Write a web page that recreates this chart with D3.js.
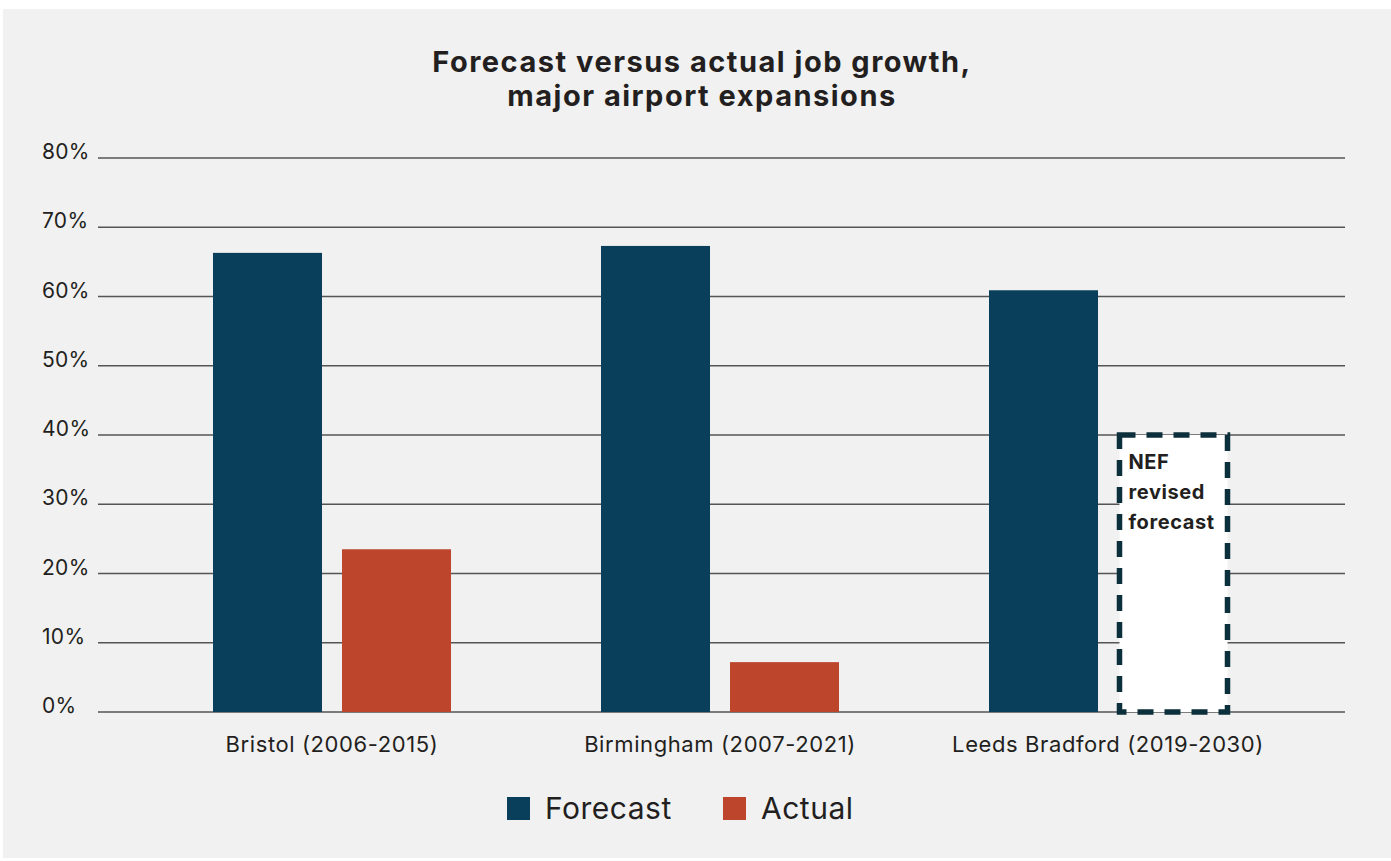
<!DOCTYPE html>
<html><head><meta charset="utf-8">
<script src="https://cdn.jsdelivr.net/npm/d3@7"></script>
<style>
html,body{margin:0;padding:0;background:#fff;}
svg{display:block;}
</style></head>
<body>
<script>
const categories = ["Bristol (2006-2015)", "Birmingham (2007-2021)", "Leeds Bradford (2019-2030)"];
const series = ["Forecast", "Actual"];
const forecastValues = [66.3, 67.3, 60.9];
const actualValues = [23.5, 7.2, null];
const revisedValues = [null, null, 40];
const yTicks = [0, 10, 20, 30, 40, 50, 60, 70, 80];
const titleLines = ["Forecast versus actual job growth,", "major airport expansions"];
const revisedLabel = ["NEF", "revised", "forecast"];
const colors = {Forecast: "#093f5a", Actual: "#bc452c"};

const W = 1391, H = 861;
const svg = d3.select("body").append("svg").attr("width", W).attr("height", H);
const font = "Inter, 'Noto Sans', sans-serif";

svg.append("rect").attr("x", 3).attr("y", 9).attr("width", W - 3).attr("height", 849).attr("fill", "#f1f1f1");

const t = svg.append("text").attr("text-anchor", "middle").attr("font-family", font)
  .attr("font-weight", 700).attr("font-size", 29).attr("letter-spacing", 1.5).attr("fill", "#231f20");
titleLines.forEach((l, i) => t.append("tspan").attr("x", 702).attr("y", 72 + i * 34).text(l));

const y = d3.scaleLinear().domain([0, 80]).range([712, 158]);
const gridX0 = 98, gridX1 = 1345;

const x0 = d3.scaleBand().domain(categories).range([138, 1302]).paddingInner(0.3866).paddingOuter(0.1933);
const x1 = d3.scaleBand().domain(series).range([0, x0.bandwidth()]).paddingInner(0.155);

// grid
svg.append("g").selectAll("line").data(yTicks).join("line")
  .attr("x1", gridX0).attr("x2", gridX1)
  .attr("y1", d => y(d)).attr("y2", d => y(d))
  .attr("stroke", "#555").attr("stroke-width", 1.5);

svg.append("g").selectAll("text").data(yTicks).join("text")
  .attr("x", 42).attr("y", d => y(d) + 1)
  .attr("font-family", font).attr("font-size", 21).attr("letter-spacing", 0.3).attr("fill", "#231f20")
  .text(d => d + "%");

const rows = categories.map((c, i) => ({c, Forecast: forecastValues[i], Actual: actualValues[i], Revised: revisedValues[i]}));

const g = svg.append("g");
rows.forEach(r => {
  series.forEach(s => {
    if (r[s] == null) return;
    g.append("rect")
      .attr("x", x0(r.c) + x1(s)).attr("width", x1.bandwidth())
      .attr("y", y(r[s])).attr("height", y(0) - y(r[s]))
      .attr("fill", colors[s]);
  });
  if (r.Revised != null) {
    const bx = x0(r.c) + x1("Actual") + 1.5, bw = x1.bandwidth() - 1;
    const by = y(r.Revised), bh = y(0) - y(r.Revised);
    g.append("rect").attr("x", bx).attr("y", by).attr("width", bw).attr("height", bh)
      .attr("fill", "#fff").attr("stroke", "#0b2f3b").attr("stroke-width", 5.5)
      .attr("stroke-dasharray", "16,11");
    const tt = g.append("text").attr("font-family", font).attr("font-weight", 700)
      .attr("font-size", 20).attr("letter-spacing", 0.6).attr("fill", "#231f20");
    revisedLabel.forEach((l, i) => tt.append("tspan").attr("x", bx + 9).attr("y", by + 34 + i * 30).text(l));
  }
});

svg.append("g").selectAll("text").data(categories).join("text")
  .attr("x", d => x0(d) + x0.bandwidth() / 2).attr("y", 752)
  .attr("text-anchor", "middle").attr("font-family", font).attr("font-size", 22).attr("letter-spacing", 0.6).attr("fill", "#231f20")
  .text(d => d);

const legendX = [507, 723];
series.forEach((s, i) => {
  svg.append("rect").attr("x", legendX[i]).attr("y", 797).attr("width", 23).attr("height", 23).attr("fill", colors[s]);
  svg.append("text").attr("x", legendX[i] + 38).attr("y", 819)
    .attr("font-family", font).attr("font-size", 30).attr("letter-spacing", 0.5).attr("fill", "#231f20").text(s);
});
</script>
</body></html>
